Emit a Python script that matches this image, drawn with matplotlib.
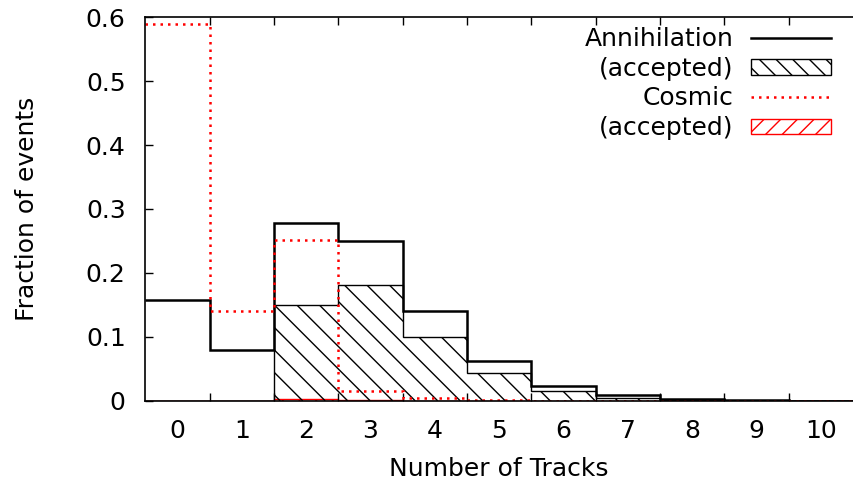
import numpy as np
import matplotlib
matplotlib.use("Agg")
import matplotlib.pyplot as plt
from matplotlib.lines import Line2D
from matplotlib.patches import Patch
from matplotlib.collections import LineCollection

tracks = [0, 1, 2, 3, 4, 5, 6, 7, 8, 9, 10]
annihilation = [0.158, 0.080, 0.278, 0.250, 0.140, 0.063, 0.023, 0.009, 0.003, 0.001, 0.0005]
annihilation_acc = [0.0, 0.0, 0.150, 0.181, 0.100, 0.044, 0.015, 0.005, 0.001, 0.0, 0.0]
cosmic = [0.589, 0.140, 0.252, 0.016, 0.004, 0.001, 0.0, 0.0, 0.0, 0.0, 0.0]
cosmic_acc = [0.0, 0.0, 0.003, 0.001, 0.0, 0.0, 0.0, 0.0, 0.0, 0.0, 0.0]

edges = np.arange(len(tracks) + 1) - 0.5

plt.rcParams['font.family'] = 'DejaVu Sans'
plt.rcParams['hatch.linewidth'] = 1.0
fs = 18

fig = plt.figure(figsize=(8.54, 4.9), dpi=100, facecolor='white')
ax = fig.add_axes([0.170, 0.182, 0.829, 0.783])
ax.set_xlim(-0.5, 10.5)
ax.set_ylim(0, 0.6)

acc = ax.stairs(annihilation_acc, edges, fill=True, facecolor='white', edgecolor='black',
                linewidth=1.0)

# wider hatch than matplotlib's built-in one: 45 deg lines ~22 px apart
bbox = ax.get_window_extent()
px_x = bbox.width / 11.0
px_y = bbox.height / 0.6
step = 22.5 / px_x
slope = px_x / px_y
segs = []
for x0 in np.arange(-0.5, 10.5 + 0.6 / slope, step):
    segs.append([(x0 - 0.6 / slope, 0.6), (x0, 0.0)])
lc = LineCollection(segs, colors='black', linewidths=1.0, zorder=acc.get_zorder() + 0.1)
ax.add_collection(lc)
lc.set_clip_path(acc)

ax.stairs(cosmic_acc, edges, fill=True, facecolor='white', edgecolor='red',
          hatch='//', linewidth=1.0)
ax.stairs(annihilation, edges, baseline=None, color='black', linewidth=1.8, zorder=3)
ax.stairs(cosmic, edges, baseline=None, color='red', linewidth=1.8,
          linestyle=(0, (1, 2)), zorder=3)

ax.set_xticks(edges[1:-1])
ax.set_xticklabels([])
ax.set_xticks(tracks, minor=True)
ax.set_xticklabels([str(t) for t in tracks], minor=True)
ax.tick_params(axis='x', which='major', direction='in', length=6, top=True, width=1)
ax.tick_params(axis='x', which='minor', length=0, pad=13, labelsize=fs)
ax.set_yticks([0, 0.1, 0.2, 0.3, 0.4, 0.5, 0.6])
ax.set_yticklabels(['0', '0.1', '0.2', '0.3', '0.4', '0.5', '0.6'])
ax.tick_params(axis='y', direction='in', length=6, labelsize=fs, pad=14, width=1)
ax.spines['right'].set_visible(False)
for s in ['left', 'top', 'bottom']:
    ax.spines[s].set_linewidth(1.2)
    ax.spines[s].set_zorder(5)

ax.set_xlabel('Number of Tracks', fontsize=fs, labelpad=10)
ax.set_ylabel('Fraction of events', fontsize=fs, labelpad=34)

handles = [
    Line2D([], [], color='black', linewidth=1.8),
    Patch(facecolor='white', edgecolor='black', hatch='\\\\', linewidth=1.0),
    Line2D([], [], color='red', linewidth=1.8, linestyle=(0, (1, 2))),
    Patch(facecolor='white', edgecolor='red', hatch='//', linewidth=1.0),
]
labels = ['Annihilation', '(accepted)', 'Cosmic', '(accepted)']
leg = ax.legend(handles, labels, loc='upper right', bbox_to_anchor=(0.993, 1.02),
                frameon=False, markerfirst=False, fontsize=fs, handlelength=3.2,
                handleheight=0.56, labelspacing=0.23, handletextpad=0.68,
                borderpad=0.2)
for t in leg.get_texts():
    t.set_ha('right')

fig.savefig('out.png', dpi=100)
